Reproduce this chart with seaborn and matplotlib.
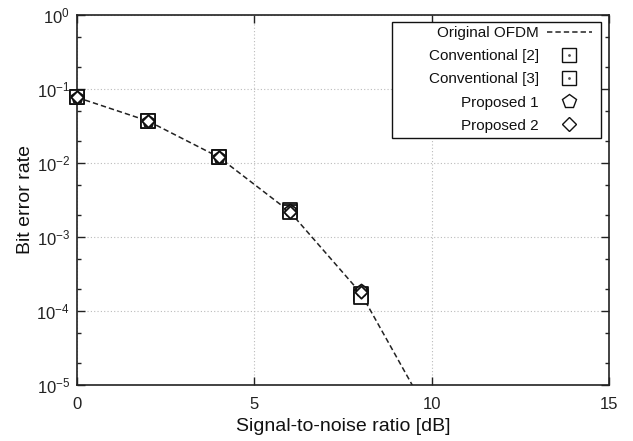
import numpy as np
import pandas as pd
import matplotlib
matplotlib.use("Agg")
import matplotlib.pyplot as plt
import seaborn as sns
from matplotlib.lines import Line2D
from matplotlib.patches import Rectangle
from matplotlib.legend_handler import HandlerTuple
from matplotlib.ticker import LogLocator, FixedLocator, NullLocator

# ---- data ----
snr_line = [0, 2, 4, 6, 8, 10]
ber_original = [0.077, 0.037, 0.012, 0.0022, 1.75e-4, 3.4e-6]

snr_pts = [0, 2, 4, 6, 8]
ber_conv2 = [0.078, 0.037, 0.012, 0.0023, 1.70e-4]
ber_conv3 = [0.077, 0.037, 0.012, 0.0022, 1.55e-4]
ber_prop1 = [0.078, 0.037, 0.012, 0.0023, 1.95e-4]
ber_prop2 = [0.077, 0.037, 0.012, 0.0022, 1.80e-4]

labels = ["Original OFDM", "Conventional [2]", "Conventional [3]", "Proposed 1", "Proposed 2"]
x_ticks = [0, 5, 10, 15]

sns.set_style("ticks")
plt.rcParams['font.family'] = ['Liberation Sans', 'DejaVu Sans']
plt.rcParams['mathtext.fontset'] = 'custom'
plt.rcParams['mathtext.rm'] = 'Liberation Sans'
plt.rcParams['mathtext.it'] = 'Liberation Sans'
plt.rcParams['mathtext.default'] = 'regular'
plt.rcParams['axes.unicode_minus'] = False

fig = plt.figure(figsize=(6.33, 4.41), dpi=100)
ax = fig.add_axes([0.1216, 0.127, 0.8404, 0.839])

df_line = pd.DataFrame({"snr": snr_line, "ber": ber_original})
sns.lineplot(data=df_line, x="snr", y="ber", ax=ax, color="#222222",
             linestyle=(0, (3.5, 2.0)), linewidth=1.1, zorder=2)

mk_kw = dict(facecolor="white", edgecolor="#111111", linewidth=1.3, clip_on=False)
sns.scatterplot(x=snr_pts, y=ber_conv2, ax=ax, marker="s", s=95, zorder=3, **mk_kw)
sns.scatterplot(x=snr_pts, y=ber_conv2, ax=ax, marker=".", s=6, color="#333333", linewidth=0, zorder=4, clip_on=False)
sns.scatterplot(x=snr_pts, y=ber_conv3, ax=ax, marker="s", s=95, zorder=3, **mk_kw)
sns.scatterplot(x=snr_pts, y=ber_conv3, ax=ax, marker=".", s=6, color="#333333", linewidth=0, zorder=4, clip_on=False)
sns.scatterplot(x=snr_pts, y=ber_prop1, ax=ax, marker="p", s=75, zorder=5, **mk_kw)
sns.scatterplot(x=snr_pts, y=ber_prop2, ax=ax, marker="D", s=40, zorder=6, **mk_kw)

ax.set_yscale("log")
ax.set_xlim(0, 15)
ax.set_ylim(1e-5, 1)
ax.xaxis.set_major_locator(FixedLocator(x_ticks))
ax.xaxis.set_minor_locator(NullLocator())
ax.yaxis.set_major_locator(LogLocator(base=10, numticks=10))
ax.yaxis.set_minor_locator(LogLocator(base=10, subs=[2, 5], numticks=10))

ax.grid(True, which="major", linestyle=(0, (1, 2)), color="#bbbbbb", linewidth=0.8)
ax.tick_params(which="both", direction="in", top=True, right=True, labelsize=12, colors="#222222")
ax.tick_params(which="major", length=6, width=1)
ax.tick_params(which="minor", length=3, width=1)
ax.tick_params(axis="x", pad=9)
ax.tick_params(axis="y", pad=5)
for sp in ax.spines.values():
    sp.set_linewidth(1.2)
    sp.set_color("#222222")

ax.set_xlabel("Signal-to-noise ratio [dB]", fontsize=14, color="#111111", labelpad=4)
ax.set_ylabel("Bit error rate", fontsize=14, color="#111111", labelpad=2)

# legend box (gnuplot-style, wide left padding)
ax.add_patch(Rectangle((0.592, 0.668), 0.393, 0.313, transform=ax.transAxes,
                       facecolor="white", edgecolor="#111111", linewidth=1.0,
                       zorder=8))

h_line = Line2D([], [], color="#222222", linestyle=(0, (3.5, 2.0)), linewidth=1.1)
def sq():
    return Line2D([], [], marker="s", markersize=9.5, markerfacecolor="white",
                  markeredgecolor="#111111", markeredgewidth=1.0, linestyle="")
def dot():
    return Line2D([], [], marker=".", markersize=2, color="#555555", linestyle="")
h_c2 = (sq(), dot())
h_c3 = (sq(), dot())
h_p1 = Line2D([], [], marker="p", markersize=10, markerfacecolor="white",
              markeredgecolor="#111111", markeredgewidth=1.0, linestyle="")
h_p2 = Line2D([], [], marker="D", markersize=7, markerfacecolor="white",
              markeredgecolor="#111111", markeredgewidth=1.0, linestyle="")
leg = ax.legend([h_line, h_c2, h_c3, h_p1, h_p2], labels, loc="upper right",
                markerfirst=False, fontsize=11, frameon=False,
                handlelength=2.95, handletextpad=0.52, labelspacing=0.6,
                borderpad=0.0, borderaxespad=0.0,
                bbox_to_anchor=(0.968, 0.970),
                handler_map={tuple: HandlerTuple(ndivide=1)})
leg.set_zorder(9)
for t in leg.get_texts():
    t.set_color("#111111")

fig.savefig("out.png", dpi=100)
